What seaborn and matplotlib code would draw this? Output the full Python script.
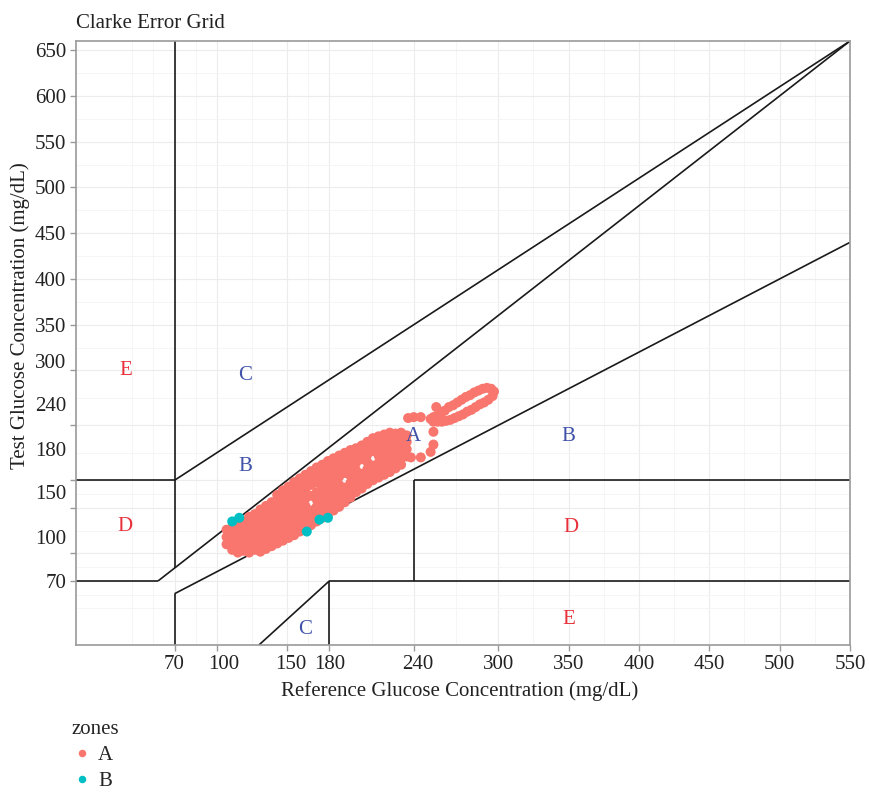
import matplotlib
matplotlib.use("Agg")
import matplotlib.pyplot as plt
import matplotlib.transforms as mtransforms
import pandas as pd
import seaborn as sns

sns.set_theme(style="white")
plt.rcParams["font.family"] = ["Liberation Serif", "DejaVu Serif"]

# Zone A points (reference, test)
zone_a_points = [
    (107, 110), (107, 118), (107, 126),
    (111, 104), (111, 112), (111, 120), (111, 128),
    (115, 101), (115, 108), (115, 116), (115, 124), (115, 131),
    (119, 103), (119, 111), (119, 119), (119, 127), (119, 135),
    (123, 101), (123, 108), (123, 116), (123, 124), (123, 132), (123, 140),
    (127, 104), (127, 112), (127, 120), (127, 128), (127, 136), (127, 143),
    (131, 102), (131, 109), (131, 117), (131, 125), (131, 133), (131, 141), (131, 148),
    (135, 105), (135, 113), (135, 121), (135, 129), (135, 137), (135, 145), (135, 152),
    (139, 108), (139, 116), (139, 124), (139, 132), (139, 140), (139, 148), (139, 156),
    (143, 111), (143, 119), (143, 127), (143, 135), (143, 143), (143, 151), (143, 159), (143, 164),
    (147, 114), (147, 122), (147, 130), (147, 138), (147, 146), (147, 154), (147, 162), (147, 169),
    (151, 117), (151, 125), (151, 133), (151, 141), (151, 149), (151, 157), (151, 165), (151, 173),
    (155, 120), (155, 128), (155, 136), (155, 144), (155, 152), (155, 160), (155, 170), (155, 178),
    (159, 124), (159, 132), (159, 140), (159, 148), (159, 156), (159, 164), (159, 174), (159, 182),
    (163, 128), (163, 136), (163, 144), (163, 152), (163, 160), (163, 170), (163, 179), (163, 186),
    (167, 131), (167, 139), (167, 147), (167, 163), (167, 175), (167, 183), (167, 190),
    (171, 135), (171, 143), (171, 151), (171, 159), (171, 167), (171, 178), (171, 187), (171, 194),
    (175, 139), (175, 147), (175, 155), (175, 163), (175, 171), (175, 181), (175, 190), (175, 197),
    (179, 143), (179, 151), (179, 159), (179, 167), (179, 175), (179, 185), (179, 194), (179, 201),
    (183, 147), (183, 155), (183, 163), (183, 171), (183, 180), (183, 188), (183, 197), (183, 204),
    (187, 151), (187, 159), (187, 167), (187, 175), (187, 184), (187, 192), (187, 200), (187, 207),
    (191, 156), (191, 164), (191, 172), (191, 188), (191, 196), (191, 204), (191, 210),
    (195, 161), (195, 169), (195, 177), (195, 185), (195, 193), (195, 201), (195, 208), (195, 213),
    (199, 167), (199, 175), (199, 183), (199, 191), (199, 199), (199, 206), (199, 215),
    (203, 171), (203, 179), (203, 187), (203, 203), (203, 211), (203, 218),
    (207, 176), (207, 184), (207, 192), (207, 200), (207, 208), (207, 215), (207, 222),
    (211, 180), (211, 188), (211, 196), (211, 212), (211, 220), (211, 226),
    (215, 183), (215, 191), (215, 199), (215, 207), (215, 214), (215, 222), (215, 228),
    (219, 186), (219, 194), (219, 202), (219, 210), (219, 218), (219, 225), (219, 230),
    (223, 189), (223, 197), (223, 205), (223, 213), (223, 221), (223, 228), (223, 232),
    (227, 193), (227, 200), (227, 208), (227, 216), (227, 224), (227, 231),
    (231, 197), (231, 204), (231, 212), (231, 220), (231, 227), (231, 232),
    (235, 206), (235, 214), (235, 222), (235, 229),
    # scattered points near the A label
    (236, 248), (240, 249), (245, 249), (256, 260), (254, 249), (254, 233),
    (254, 219), (252, 211), (238, 205), (245, 205),
    # loop at the top end: upper wall, then lower wall
    (252, 247), (256, 250), (259, 253), (262, 256), (265, 260), (268, 262),
    (271, 265), (274, 268), (277, 271), (280, 273), (283, 276), (286, 278),
    (289, 280), (292, 281), (295, 280), (297, 277),
    (254, 244), (257, 244), (260, 244), (263, 245), (266, 246), (269, 248),
    (272, 250), (275, 252), (278, 255), (281, 257), (284, 260), (287, 263),
    (290, 265), (293, 268), (296, 272),
]
zone_b_points = [(111, 135), (116, 139), (164, 124), (173, 137), (179, 139)]

# Clarke grid boundary segments: (x0, x1), (y0, y1)
grid_x = [(0, 58.33), (58.33, 550), (70, 70), (0, 70), (70, 550), (70, 70),
          (70, 550), (180, 180), (180, 550), (240, 240), (240, 550), (130, 180)]
grid_y = [(70, 70), (70, 660), (84, 660), (180, 180), (180, 660), (0, 56),
          (56, 440), (0, 70), (70, 70), (70, 180), (180, 180), (0, 70)]

zone_labels = ["E", "C", "B", "A", "B", "D", "D", "E", "C"]
zone_label_x = [35, 120, 120, 240, 350, 35, 352, 350, 163]
zone_label_y = [300, 295, 195, 228, 228, 130, 128, 28, 17]
zone_label_colors = ["#e8303a", "#3f51a8", "#3f51a8", "#3f51a8", "#3f51a8",
                     "#e8303a", "#e8303a", "#e8303a", "#3f51a8"]

x_ticks = [70, 100, 150, 180, 240, 300, 350, 400, 450, 500, 550]
y_ticks = [70, 100, 150, 180, 240, 300, 350, 400, 450, 500, 550, 600, 650]
x_minor = [40, 55, 85, 125, 165, 210, 270, 325, 375, 425, 475, 525]
y_minor = [40, 55, 85, 125, 165, 210, 270, 325, 375, 425, 475, 525, 575, 625]

rows = [(x, y, "A") for x, y in zone_a_points] + [(x, y, "B") for x, y in zone_b_points]
df = pd.DataFrame(rows, columns=["ref", "test", "zones"])

fig = plt.figure(figsize=(8.69, 7.93), dpi=100)
ax = fig.add_axes([76 / 869, 1 - 645 / 793, 774 / 869, 604 / 793])

for xs, ys in zip(grid_x, grid_y):
    ax.plot(xs, ys, color="#1a1a1a", lw=1.2, zorder=2, solid_capstyle="butt")

sns.scatterplot(data=df, x="ref", y="test", hue="zones",
                palette={"A": "#F8766D", "B": "#00BFC4"},
                s=52, linewidth=0, alpha=1, zorder=3, ax=ax)

for lab, lx, ly, lc in zip(zone_labels, zone_label_x, zone_label_y, zone_label_colors):
    ax.text(lx, ly, lab, color=lc, fontsize=15, ha="center", va="center", zorder=4)

ax.set_xlim(0, 550)
ax.set_ylim(0, 660)
ax.set_xticks(x_ticks)
ax.set_yticks(y_ticks)
ax.set_xticks(x_minor, minor=True)
ax.set_yticks(y_minor, minor=True)
ax.grid(which="major", color="#ececec", lw=0.8, zorder=0)
ax.grid(which="minor", color="#f4f4f4", lw=0.6, zorder=0)
ax.set_axisbelow(True)
ax.tick_params(which="major", length=4, width=1, color="#9a9a9a", pad=3,
               labelsize=15, labelcolor="#222222", left=True, bottom=True)
ax.tick_params(which="minor", length=0)
for sp in ax.spines.values():
    sp.set_color("#9a9a9a")
    sp.set_linewidth(1.2)

ax.set_xlabel("Reference Glucose Concentration (mg/dL)", fontsize=15, color="#222222")
ax.set_ylabel("Test Glucose Concentration (mg/dL)", fontsize=15, color="#222222")
ax.xaxis.set_label_coords(0.495, -0.06)
ax.yaxis.set_label_coords(-0.059, 0.546)
ax.set_title("Clarke Error Grid", loc="left", fontsize=15, color="#222222", pad=9)

# the y tick labels sit a little above their ticks in the reference
y_label_shift = {300: 9, 240: 21, 180: 31, 150: 16, 100: 16}
for val, lab in zip(y_ticks, ax.get_yticklabels()):
    dy = y_label_shift.get(val, 0) / 100
    lab.set_transform(lab.get_transform() + mtransforms.ScaledTranslation(0, dy, fig.dpi_scale_trans))
x_label_shift = {100: 7, 150: 4, 240: 4}
for val, lab in zip(x_ticks, ax.get_xticklabels()):
    dx = x_label_shift.get(val, 0) / 100
    lab.set_transform(lab.get_transform() + mtransforms.ScaledTranslation(dx, 0, fig.dpi_scale_trans))

sns.move_legend(ax, "upper left", bbox_to_anchor=(72 / 869, 1 - 720 / 793),
                bbox_transform=fig.transFigure, frameon=False, title="zones",
                fontsize=15, title_fontsize=15, alignment="left",
                markerscale=0.75, borderpad=0, borderaxespad=0,
                handlelength=0.95, handletextpad=0.3, labelspacing=0.32)

fig.savefig("out.png", dpi=100)
